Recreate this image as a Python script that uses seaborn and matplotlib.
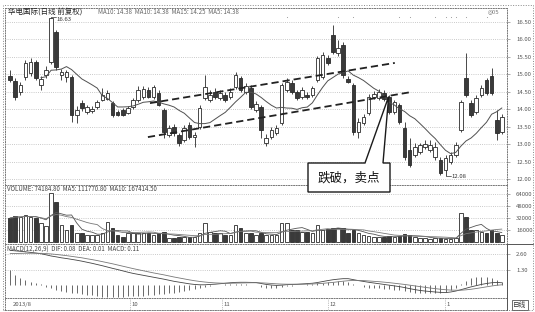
import numpy as np
import pandas as pd
import matplotlib
matplotlib.use("Agg")
import matplotlib.pyplot as plt
import seaborn as sns
from matplotlib.patches import Polygon, Rectangle
from matplotlib.lines import Line2D

# ---------------- data ----------------
open_ = [14.94, 14.80, 14.49, 14.92, 15.03, 15.35, 14.69, 14.97, 15.35, 16.20,
         14.97, 14.92, 14.92, 13.83, 14.17, 13.92, 13.95, 14.06, 14.26, 14.29,
         14.17, 13.92, 13.97, 13.89, 14.06, 14.26, 14.34, 14.54, 14.34, 14.46,
         13.97, 13.26, 13.49, 13.26, 13.12, 13.54, 13.20, 13.49, 14.32, 14.26,
         14.49, 14.32, 14.40, 14.34, 14.63, 14.89, 14.49, 14.60, 13.97, 14.06,
         13.03, 13.20, 13.32, 13.60, 14.54, 14.74, 14.49, 14.34, 14.40, 14.40,
         14.83, 14.92, 15.46, 16.12, 15.60, 15.83, 14.86, 14.69, 13.34, 13.60,
         13.89, 14.34, 14.32, 14.46, 14.34, 13.92, 14.12, 13.46, 12.83, 12.69,
         12.77, 12.92, 12.83, 12.63, 12.54, 12.26, 12.49, 12.69, 13.40, 14.89,
         14.17, 13.92, 14.40, 14.83, 14.94, 13.69, 13.34]
close = [14.83, 14.34, 14.69, 15.32, 15.35, 14.89, 14.86, 15.12, 16.60, 15.20,
         15.06, 15.06, 13.83, 13.97, 14.03, 14.06, 14.00, 14.20, 14.40, 14.46,
         13.83, 13.83, 13.83, 14.03, 14.26, 14.54, 14.57, 14.34, 14.63, 14.12,
         13.34, 13.46, 13.32, 13.03, 13.46, 13.20, 13.26, 14.03, 14.63, 14.40,
         14.34, 14.46, 14.26, 14.49, 14.97, 14.54, 14.66, 14.06, 14.15, 13.40,
         13.17, 13.40, 13.46, 14.69, 14.77, 14.49, 14.32, 14.54, 14.34, 14.60,
         15.46, 15.54, 15.32, 15.63, 15.74, 14.97, 14.77, 13.34, 13.63, 13.77,
         14.34, 14.43, 14.49, 14.29, 13.92, 14.20, 13.63, 12.63, 12.40, 12.92,
         12.97, 13.00, 12.97, 12.92, 12.17, 12.60, 12.69, 12.97, 14.20, 14.40,
         13.83, 14.32, 14.60, 14.46, 14.46, 13.32, 13.77]
high = [15.12, 14.89, 14.77, 15.40, 15.46, 15.40, 14.94, 15.23, 16.63, 16.26,
        15.14, 15.12, 14.97, 14.09, 14.26, 14.12, 14.09, 14.26, 14.60, 14.54,
        14.23, 13.97, 14.03, 14.09, 14.32, 14.66, 14.66, 14.63, 14.69, 14.54,
        14.03, 13.54, 13.57, 13.32, 13.54, 13.63, 13.34, 14.12, 14.97, 14.54,
        14.60, 14.54, 14.49, 14.60, 15.06, 14.94, 14.74, 14.69, 14.23, 14.12,
        13.29, 13.49, 13.54, 14.74, 14.89, 14.83, 14.54, 14.63, 14.49, 14.66,
        15.52, 15.63, 15.54, 16.40, 15.97, 15.92, 14.94, 14.74, 13.75, 13.86,
        14.43, 14.52, 14.57, 14.54, 14.40, 14.26, 14.17, 13.63, 13.17, 13.03,
        13.03, 13.12, 13.12, 13.06, 12.63, 12.69, 12.77, 13.06, 14.26, 15.60,
        14.26, 14.40, 14.69, 14.89, 15.17, 13.97, 13.86]
low = [14.77, 14.26, 14.40, 14.83, 14.94, 14.83, 14.54, 14.89, 15.29, 15.12,
       14.83, 14.77, 13.63, 13.60, 13.95, 13.86, 13.89, 14.00, 14.23, 14.26,
       13.77, 13.80, 13.80, 13.86, 14.00, 14.20, 14.29, 14.32, 14.29, 14.09,
       13.17, 13.20, 13.23, 12.95, 13.06, 13.14, 12.92, 13.43, 14.26, 14.20,
       14.29, 14.26, 14.20, 14.29, 14.57, 14.49, 14.43, 14.00, 13.92, 13.17,
       12.95, 13.14, 13.26, 13.54, 14.49, 14.43, 14.26, 14.29, 14.29, 14.34,
       14.77, 14.86, 15.26, 15.57, 15.52, 14.89, 14.74, 13.26, 13.17, 13.54,
       13.83, 14.29, 14.26, 14.23, 13.86, 13.86, 13.57, 12.54, 12.35, 12.63,
       12.72, 12.86, 12.77, 12.54, 12.12, 12.08, 12.43, 12.63, 13.34, 14.34,
       13.77, 13.86, 14.34, 14.40, 14.40, 13.12, 13.29]
volume = [32000, 34700, 33300, 36000, 33300, 32000, 25300, 21300, 65300, 53300,
          22700, 16000, 22700, 12000, 12000, 9300, 9300, 9300, 12000, 26700,
          18700, 9300, 6700, 12000, 12000, 12000, 12000, 12000, 9300, 12000,
          13300, 5300, 5300, 6700, 6700, 6700, 6700, 12000, 25300, 13300,
          12000, 12000, 9300, 9300, 22700, 18700, 12000, 12000, 9300, 12000,
          9300, 9300, 9300, 25300, 25300, 16000, 16000, 13300, 13300, 12000,
          22700, 16000, 17300, 18700, 18700, 18700, 12000, 16000, 12000, 9300,
          8000, 6700, 6700, 6700, 8000, 6700, 8000, 10700, 9300, 6700,
          5300, 5300, 4000, 5300, 5300, 4000, 4000, 5300, 38700, 33300,
          16000, 16000, 13300, 12000, 16000, 12000, 9300]
dif = [2.92, 2.88, 2.84, 2.80, 2.75, 2.70, 2.64, 2.55, 2.45, 2.38,
       2.30, 2.24, 2.17, 2.10, 2.02, 1.93, 1.84, 1.74, 1.64, 1.53,
       1.42, 1.32, 1.21, 1.10, 1.00, 0.92, 0.84, 0.76, 0.68, 0.60,
       0.52, 0.43, 0.34, 0.27, 0.20, 0.13, 0.08, 0.05, 0.05, 0.08,
       0.10, 0.14, 0.18, 0.22, 0.25, 0.26, 0.26, 0.25, 0.24, 0.16,
       0.08, 0.03, 0.00, 0.02, 0.06, 0.08, 0.09, 0.12, 0.15, 0.18,
       0.24, 0.32, 0.40, 0.47, 0.52, 0.56, 0.56, 0.48, 0.40, 0.33,
       0.26, 0.20, 0.14, 0.08, 0.02, -0.04, -0.10, -0.18, -0.27, -0.35,
       -0.42, -0.47, -0.51, -0.55, -0.58, -0.60, -0.55, -0.47, -0.36, -0.24,
       -0.12, -0.02, 0.08, 0.16, 0.22, 0.25, 0.22]
dea = [2.65, 2.66, 2.67, 2.68, 2.68, 2.68, 2.67, 2.65, 2.62, 2.58,
       2.53, 2.48, 2.42, 2.36, 2.30, 2.22, 2.15, 2.07, 1.98, 1.89,
       1.80, 1.70, 1.60, 1.50, 1.40, 1.31, 1.22, 1.13, 1.04, 0.96,
       0.88, 0.79, 0.70, 0.62, 0.54, 0.46, 0.39, 0.33, 0.28, 0.24,
       0.21, 0.19, 0.18, 0.18, 0.19, 0.20, 0.21, 0.22, 0.22, 0.21,
       0.19, 0.16, 0.13, 0.11, 0.10, 0.10, 0.10, 0.10, 0.11, 0.12,
       0.14, 0.17, 0.21, 0.25, 0.30, 0.35, 0.39, 0.41, 0.41, 0.40,
       0.37, 0.34, 0.31, 0.27, 0.23, 0.18, 0.13, 0.08, 0.02, -0.04,
       -0.10, -0.16, -0.22, -0.27, -0.32, -0.36, -0.39, -0.40, -0.40, -0.37,
       -0.32, -0.26, -0.19, -0.12, -0.05, 0.01, 0.05]
macd_hist = [1.25, 0.85, 0.60, 0.45, 0.32, 0.20, 0.08, -0.10, -0.25, -0.35,
             -0.45, -0.52, -0.60, -0.66, -0.72, -0.78, -0.84, -0.90, -0.95, -1.00,
             -1.00, -0.98, -0.95, -0.92, -0.90, -0.88, -0.85, -0.82, -0.78, -0.74,
             -0.70, -0.65, -0.60, -0.55, -0.48, -0.40, -0.32, -0.24, -0.15, -0.08,
             0.03, 0.06, 0.08, 0.10, 0.12, 0.12, 0.10, 0.06, 0.03, -0.10,
             -0.18, -0.22, -0.20, -0.15, -0.08, -0.04, 0.02, 0.06, 0.10, 0.14,
             0.18, 0.24, 0.28, 0.32, 0.35, 0.35, 0.30, 0.15, 0.00, -0.12,
             -0.18, -0.22, -0.25, -0.28, -0.30, -0.35, -0.40, -0.48, -0.55, -0.60,
             -0.62, -0.65, -0.66, -0.66, -0.62, -0.55, -0.40, -0.20, 0.10, 0.40,
             0.60, 0.70, 0.72, 0.70, 0.60, 0.45, 0.30]

price_ticks = [12.0, 12.5, 13.0, 13.5, 14.0, 14.5, 15.0, 15.5, 16.0, 16.5]
vol_ticks = [16000, 32000, 48000, 64000]
macd_ticks = [1.3, 2.6]
month_labels = ["2013/8", "10", "11", "12", "1"]
month_idx = [0.2, 23.4, 41.4, 62.0, 84.9]
event_idx = [54, 64, 67, 76, 78, 83, 85, 86, 87, 89, 93]
upper_trend_idx = [27.3, 75.1]
upper_trend_price = [14.17, 15.32]
lower_trend_idx = [26.9, 78.4]
lower_trend_price = [13.20, 14.49]
callout_idx = 73.9
callout_price = 14.36
callout_text = "跌破，卖点"
price_title = "华电国际(日线 前复权)"
price_header = "MA10: 14.38  MA10: 14.38  MA15: 14.25  MA5: 14.38"
vol_header = "VOLUME: 74184.80  MA5: 111770.80  MA10: 167414.50"
macd_header = "MACD(12,26,9)  DIF: 0.08  DEA: 0.01  MACD: 0.11"

# ---------------- style ----------------
sns.set_theme(style="white")
plt.rcParams["font.family"] = ["Noto Sans CJK SC", "DejaVu Sans"]
plt.rcParams["axes.unicode_minus"] = False

W, H = 535, 312
fig = plt.figure(figsize=(W / 100, H / 100), dpi=100)
fig.patch.set_facecolor("white")


def fr(x0, y0, x1, y1):
    return [x0 / W, 1 - y1 / H, (x1 - x0) / W, (y1 - y0) / H]


ax_p = fig.add_axes(fr(5, 8, 507, 185))
ax_v = fig.add_axes(fr(5, 185, 507, 244), sharex=ax_p)
ax_m = fig.add_axes(fr(5, 244, 507, 298), sharex=ax_p)
ax_d = fig.add_axes(fr(5, 298, 507, 310), sharex=ax_p)

df = pd.DataFrame({"open": open_, "close": close, "high": high, "low": low,
                   "volume": volume, "dif": dif, "dea": dea, "hist": macd_hist})
df["idx"] = np.arange(len(df))
df["up"] = df["close"] >= df["open"]
df["ma10"] = df["close"].rolling(10, min_periods=7).mean()
df["vma5"] = df["volume"].rolling(5, min_periods=1).mean()
df["vma10"] = df["volume"].rolling(10, min_periods=1).mean()

DARK = "#3a3a3a"
EDGE = "#2b2b2b"
GRID = "#b8b8b8"
TXT = "#555555"
dotted = (0, (1, 1.6))

for ax in (ax_p, ax_v, ax_m, ax_d):
    ax.set_facecolor("white")
    for s in ax.spines.values():
        s.set_linestyle(dotted)
        s.set_color("#777777")
        s.set_linewidth(0.7)
    ax.tick_params(axis="x", which="both", bottom=False, labelbottom=False)

# ---------------- candles ----------------
w = 0.7
ax_p.vlines(df["idx"], df["low"], df["high"], color=EDGE, lw=0.6, zorder=2)
body_bottom = df[["open", "close"]].min(axis=1)
body_h = (df["close"] - df["open"]).abs().clip(lower=0.02)
ax_p.bar(df["idx"], body_h, bottom=body_bottom, width=w,
         color=np.where(df["up"], "white", DARK), edgecolor=EDGE, linewidth=0.6, zorder=3)

sns.lineplot(data=df, x="idx", y="ma10", ax=ax_p, color="#505050", lw=0.7, zorder=4)

ax_p.plot(upper_trend_idx, upper_trend_price, ls=(0, (4, 2.2)), color="#222222", lw=1.3, zorder=5)
ax_p.plot(lower_trend_idx, lower_trend_price, ls=(0, (4, 2.2)), color="#222222", lw=1.3, zorder=5)

# high / low labels
imax = int(df["high"].idxmax())
imin = int(df["low"].idxmin())
hmax = df["high"].max()
lmin = df["low"].min()
ax_p.plot([imax, imax + 0.9], [hmax, hmax], color="#333333", lw=0.5)
ax_p.text(imax + 1.0, hmax - 0.07, f"{hmax:.2f}", fontsize=4.3, color="#333333", va="center")
ax_p.plot([imin, imin + 1.0], [lmin, lmin], color="#333333", lw=0.5)
ax_p.text(imin + 1.1, lmin - 0.02, f"{lmin:.2f}", fontsize=4.3, color="#333333", va="center")

# faint event markers along the top
ax_p.scatter(event_idx, [16.63] * len(event_idx), marker="o", s=0.6, color="#999999",
             linewidths=0, zorder=4)

ax_p.set_xlim(-1, 97)
ax_p.set_ylim(11.83, 16.89)
ax_p.yaxis.tick_right()
ax_p.set_yticks(price_ticks)
ax_p.set_yticklabels([f"{t:.2f}" for t in price_ticks])
ax_p.set_ylabel("")
ax_p.set_xlabel("")
ax_p.grid(axis="y", linestyle=dotted, color=GRID, lw=0.6)

ax_p.text(3 / 502, 0.978, price_title, transform=ax_p.transAxes, fontsize=5.4,
          color="#222222", va="center", ha="left")
ax_p.text(93 / 502, 0.978, price_header, transform=ax_p.transAxes, fontsize=4.4,
          color="#666666", va="center", ha="left")
ax_p.text(0.985, 0.98, "◎05", transform=ax_p.transAxes, fontsize=4, color="#777777",
          va="center", ha="right", family="DejaVu Sans")

# ---------------- volume ----------------
ax_v.bar(df["idx"], df["volume"], width=w, color=np.where(df["up"], "white", DARK),
         edgecolor=EDGE, linewidth=0.6, zorder=3)
sns.lineplot(data=df, x="idx", y="vma5", ax=ax_v, color="#555555", lw=0.6, zorder=4)
sns.lineplot(data=df, x="idx", y="vma10", ax=ax_v, color="#777777", lw=0.6, zorder=4)
ax_v.set_ylim(-2700, 76000)
ax_v.yaxis.tick_right()
ax_v.set_yticks(vol_ticks)
ax_v.set_yticklabels([f"{t:d}" for t in vol_ticks])
ax_v.set_ylabel("")
ax_v.set_xlabel("")
ax_v.grid(axis="y", linestyle=dotted, color=GRID, lw=0.6)
ax_v.text(0.004, 0.93, vol_header, transform=ax_v.transAxes, fontsize=4.4,
          color="#444444", va="center", ha="left")

# ---------------- MACD ----------------
ax_m.vlines(df["idx"], 0, df["hist"], color="#505050", lw=0.6, zorder=3)
sns.lineplot(data=df, x="idx", y="dif", ax=ax_m, color="#444444", lw=0.6, zorder=4)
sns.lineplot(data=df, x="idx", y="dea", ax=ax_m, color="#777777", lw=0.6, zorder=4)
ax_m.set_ylim(-1.05, 3.45)
ax_m.yaxis.tick_right()
ax_m.set_yticks(macd_ticks)
ax_m.set_yticklabels([f"{t:.2f}" for t in macd_ticks])
ax_m.set_ylabel("")
ax_m.set_xlabel("")
ax_m.grid(axis="y", linestyle=dotted, color=GRID, lw=0.6)
ax_m.text(0.004, 0.9, macd_header, transform=ax_m.transAxes, fontsize=4.4,
          color="#444444", va="center", ha="left")

for ax in (ax_p, ax_v, ax_m):
    ax.tick_params(axis="y", which="both", right=True, left=False, labelright=True,
                   labelleft=False, labelsize=4.3, labelcolor=TXT, length=2.5,
                   width=0.5, color="#888888", pad=4)

# ---------------- date strip ----------------
ax_d.set_ylim(0, 1)
ax_d.set_yticks([])
for lab, xi in zip(month_labels, month_idx):
    ax_d.text(xi + 0.3, 0.45, lab, fontsize=4.3, color=TXT, va="center", ha="left")
    if xi > 1:
        ax_d.vlines(xi, 0.1, 0.9, color="#888888", lw=0.5, linestyles=dotted)

# right-side frame pieces
fig.add_artist(Line2D([507 / W, 507 / W], [1 - 244 / H, 1 - 310 / H], color="#555555", lw=0.7))
fig.add_artist(Line2D([507 / W, 533 / W], [1 - 244 / H, 1 - 244 / H], color="#555555", lw=0.7))
fig.add_artist(Rectangle((3 / W, 1 - 310 / H), 530 / W, 305 / H, transform=fig.transFigure,
                         fill=False, ls=dotted, lw=0.7, edgecolor="#888888"))
fig.text(520 / W, 1 - 304.5 / H, "日线", fontsize=4.8, color="#333333", ha="center", va="center",
         bbox=dict(boxstyle="square,pad=0.15", fc="white", ec="#555555", lw=0.6))

# ---------------- callout ----------------
tip_disp = ax_p.transData.transform((callout_idx, callout_price))
tx, ty = fig.transFigure.inverted().transform(tip_disp)
box = [(308, 163), (365, 163), None, (383, 163), (390, 163), (390, 192), (308, 192)]
pts = []
for p in box:
    if p is None:
        pts.append((tx, ty))
    else:
        pts.append((p[0] / W, 1 - p[1] / H))
fig.add_artist(Polygon(pts, closed=True, transform=fig.transFigure, facecolor="white",
                       edgecolor="#1a1a1a", lw=1.0, zorder=20))
fig.text(349 / W, 1 - 178 / H, callout_text, fontsize=9, color="#111111",
         ha="center", va="center", zorder=21)

fig.savefig("out.png", dpi=100, facecolor="white")
